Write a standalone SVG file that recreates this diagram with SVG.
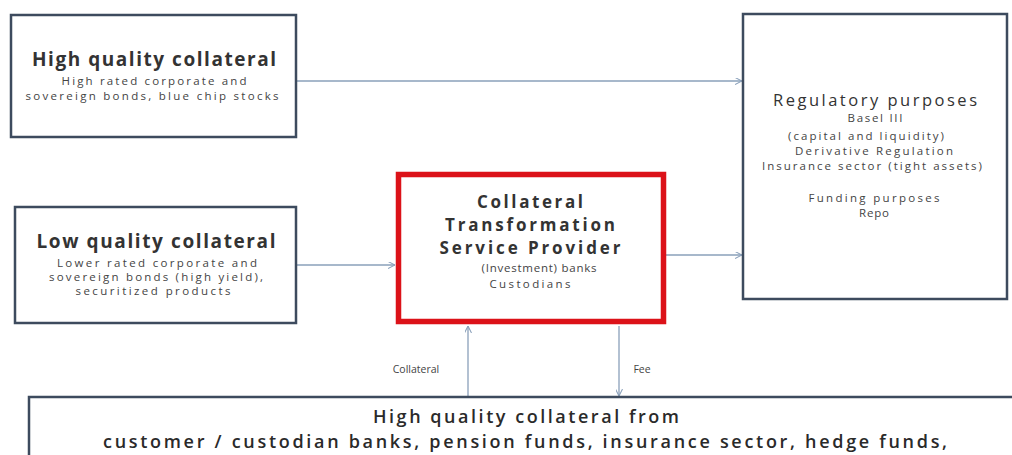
<svg xmlns="http://www.w3.org/2000/svg" width="1012" height="455" viewBox="0 0 1012 455">
<style>
.box{fill:#ffffff;stroke:#3d4b5e;stroke-width:2.5}
.red{fill:#ffffff;stroke:#dc1219;stroke-width:5.5}
.t{font-family:"Open Sans","Liberation Sans",sans-serif;font-weight:700;font-size:19px;fill:#333;text-anchor:middle}
.tc{font-family:"Open Sans","Liberation Sans",sans-serif;font-weight:700;font-size:17px;fill:#333;text-anchor:middle}
.m{font-family:"Open Sans","Liberation Sans",sans-serif;font-weight:400;font-size:16.5px;fill:#333;text-anchor:middle}
.s{font-family:"Open Sans","Liberation Sans",sans-serif;font-weight:400;font-size:11.5px;fill:#444;text-anchor:middle}
.l{font-family:"Open Sans","Liberation Sans",sans-serif;font-weight:400;font-size:10.5px;fill:#444;text-anchor:middle}
.b{font-family:"Open Sans","Liberation Sans",sans-serif;font-weight:600;font-size:18px;fill:#2a2a2a;text-anchor:middle}
.c{stroke:#8aa0ba;stroke-width:1.3;fill:none;marker-end:url(#ah)}
</style>
<defs>
<marker id="ah" viewBox="0 0 10 10" refX="10" refY="5" markerWidth="7" markerHeight="7" markerUnits="userSpaceOnUse" orient="auto">
<path d="M0,0 L10,5 L0,10" fill="none" stroke="#8aa0ba" stroke-width="1.5"/>
</marker>
</defs>
<rect width="1012" height="455" fill="#ffffff"/>
<g id="connectors">
<line class="c" x1="297" y1="81" x2="742" y2="81"/>
<line class="c" x1="297" y1="265" x2="395" y2="265"/>
<line class="c" x1="666" y1="255" x2="742" y2="255"/>
<line class="c" x1="468" y1="397" x2="468" y2="326"/>
<line class="c" x1="619" y1="326" x2="619" y2="396"/>
<text class="l" x="416" y="373">Collateral</text>
<text class="l" x="642" y="373">Fee</text>
</g>
<g id="high-quality">
<rect class="box" x="11" y="15" width="285" height="122"/>
<text class="t" x="154" y="66" textLength="244" lengthAdjust="spacing">High quality collateral</text>
<text class="s" x="154" y="85" textLength="185" lengthAdjust="spacing">High rated corporate and</text>
<text class="s" x="152" y="100" textLength="253" lengthAdjust="spacing">sovereign bonds, blue chip stocks</text>
</g>
<g id="low-quality">
<rect class="box" x="15" y="207" width="281" height="116"/>
<text class="t" x="156" y="248" textLength="239" lengthAdjust="spacing">Low quality collateral</text>
<text class="s" x="157" y="267" textLength="200" lengthAdjust="spacing">Lower rated corporate and</text>
<text class="s" x="156" y="281" textLength="214" lengthAdjust="spacing">sovereign bonds (high yield),</text>
<text class="s" x="153" y="295" textLength="155" lengthAdjust="spacing">securitized products</text>
</g>
<g id="provider">
<rect class="red" x="398.5" y="174.5" width="265" height="147"/>
<text class="tc" x="530" y="208" textLength="106" lengthAdjust="spacing">Collateral</text>
<text class="tc" x="530" y="231" textLength="170" lengthAdjust="spacing">Transformation</text>
<text class="tc" x="530" y="254" textLength="181" lengthAdjust="spacing">Service Provider</text>
<text class="s" x="539" y="272" textLength="115" lengthAdjust="spacing">(Investment) banks</text>
<text class="s" x="530" y="288" textLength="81" lengthAdjust="spacing">Custodians</text>
</g>
<g id="purposes">
<rect class="box" x="743" y="14" width="264" height="285"/>
<text class="m" x="875" y="106" textLength="204" lengthAdjust="spacing">Regulatory purposes</text>
<text class="s" x="875" y="122" textLength="55" lengthAdjust="spacing">Basel III</text>
<text class="s" x="866" y="140" textLength="156" lengthAdjust="spacing">(capital and liquidity)</text>
<text class="s" x="874" y="155" textLength="158" lengthAdjust="spacing">Derivative Regulation</text>
<text class="s" x="872" y="170" textLength="220" lengthAdjust="spacing">Insurance sector (tight assets)</text>
<text class="s" x="874" y="202" textLength="131" lengthAdjust="spacing">Funding purposes</text>
<text class="s" x="874" y="217" textLength="30" lengthAdjust="spacing">Repo</text>
</g>
<g id="sources">
<rect class="box" x="29" y="397" width="1000" height="80"/>
<text class="b" x="526" y="423" textLength="306" lengthAdjust="spacing">High quality collateral from</text>
<text class="b" x="525" y="448" textLength="844" lengthAdjust="spacing">customer / custodian banks, pension funds, insurance sector, hedge funds,</text>
</g>
</svg>
